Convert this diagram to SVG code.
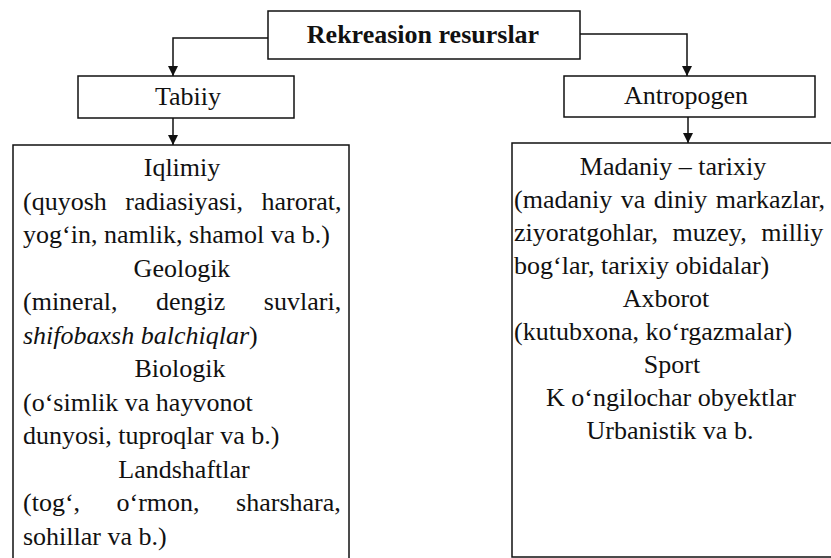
<svg xmlns="http://www.w3.org/2000/svg" width="831" height="558" viewBox="0 0 831 558">
<defs>
<marker id="arr" viewBox="0 0 10 10" refX="10" refY="5" markerWidth="10" markerHeight="10" markerUnits="userSpaceOnUse" orient="auto">
<path d="M0,0 L10,5 L0,10 z" fill="#111"/>
</marker>
<style>
.box{fill:none;stroke:#111;stroke-width:1.5}
.t{font-size:26px;fill:#111}
.c{text-anchor:middle}
.b{font-weight:bold}
.con{fill:none;stroke:#111;stroke-width:1.5}
</style>
</defs>
<rect width="831" height="558" fill="#fff"/>
<g id="connectors">
<polyline class="con" points="268,38 173,38 173,76" marker-end="url(#arr)"/>
<polyline class="con" points="580,34 687,34 687,76" marker-end="url(#arr)"/>
<line class="con" x1="173" y1="118" x2="173" y2="145" marker-end="url(#arr)"/>
<line class="con" x1="688" y1="117" x2="688" y2="143" marker-end="url(#arr)"/>
</g>
<g font-family="'Liberation Serif', 'DejaVu Serif', serif">
<g id="root">
<rect class="box" x="268" y="11" width="312" height="48"/>
<text class="t c b" x="423" y="43">Rekreasion resurslar</text>
</g>
<g id="tabiiy">
<rect class="box" x="78" y="76" width="216" height="42"/>
<text class="t c" x="188" y="105">Tabiiy</text>
</g>
<g id="antropogen">
<rect class="box" x="564" y="76" width="251" height="41"/>
<text class="t c" x="686" y="104">Antropogen</text>
</g>
<g id="tabiiy-list">
<rect class="box" x="13" y="145" width="336" height="420"/>
<text class="t c" x="182" y="176">Iqlimiy</text>
<text class="t" x="23" y="209.5" word-spacing="12">(quyosh radiasiyasi, harorat,</text>
<text class="t" x="23" y="243">yog‘in, namlik, shamol va b.)</text>
<text class="t c" x="182" y="276.5">Geologik</text>
<text class="t" x="23" y="310" word-spacing="32">(mineral, dengiz suvlari,</text>
<text class="t" x="23" y="343.5"><tspan font-style="italic">shifobaxsh balchiqlar</tspan>)</text>
<text class="t c" x="180" y="377">Biologik</text>
<text class="t" x="23" y="410.5">(o‘simlik va hayvonot</text>
<text class="t" x="23" y="444">dunyosi, tuproqlar va b.)</text>
<text class="t c" x="184" y="477.5">Landshaftlar</text>
<text class="t" x="23" y="511" word-spacing="30">(tog‘, o‘rmon, sharshara,</text>
<text class="t" x="23" y="544.5">sohillar va b.)</text>
</g>
<g id="antropogen-list">
<rect class="box" x="512" y="143" width="330" height="414"/>
<text class="t c" x="673" y="175">Madaniy – tarixiy</text>
<text class="t" x="514" y="208" word-spacing="2">(madaniy va diniy markazlar,</text>
<text class="t" x="514" y="241" word-spacing="8">ziyoratgohlar, muzey, milliy</text>
<text class="t" x="514" y="274">bog‘lar, tarixiy obidalar)</text>
<text class="t c" x="666" y="307">Axborot</text>
<text class="t" x="514" y="340">(kutubxona, ko‘rgazmalar)</text>
<text class="t c" x="672" y="373">Sport</text>
<text class="t c" x="671" y="406">K o‘ngilochar obyektlar</text>
<text class="t c" x="670" y="439">Urbanistik va b.</text>
</g>
</g>
</svg>
